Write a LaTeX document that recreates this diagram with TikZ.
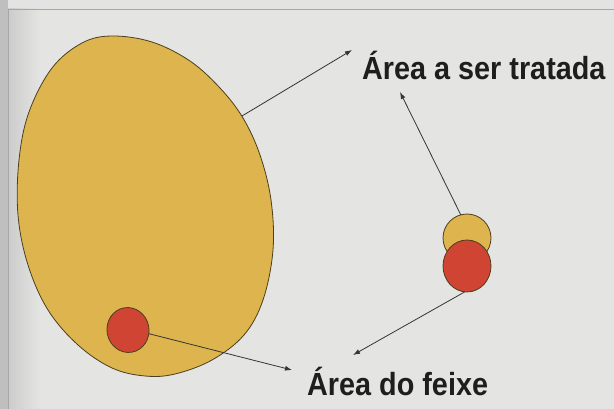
\documentclass[tikz,border=0pt]{standalone}
\usepackage{fontspec}
\newfontfamily\lblfont[FakeStretch=0.9]{Liberation Sans}
\usetikzlibrary{arrows.meta}
\definecolor{bg}{HTML}{E4E4E2}
\definecolor{mustard}{HTML}{DDB44E}
\definecolor{edgebrown}{HTML}{4A3F1E}
\definecolor{beamred}{HTML}{CF4433}
\definecolor{inkdark}{HTML}{1E1E1E}
\tikzset{
  blob/.style={draw=edgebrown, line width=0.8pt},
  disc/.style={blob, inner sep=0pt, outer sep=0pt, ellipse},
  pointer/.style={draw=inkdark!90, line width=0.8pt, -{Latex[length=7pt,width=5pt]}},
  lbl/.style={font=\lblfont\bfseries\fontsize{32}{36}\selectfont, text=inkdark, inner sep=0pt, anchor=base west}
}
\usetikzlibrary{shapes.geometric}
\begin{document}
\begin{tikzpicture}[x=1pt,y=-1pt]
\useasboundingbox (0,0) rectangle (614,409);
% background
\fill[bg] (0,0) rectangle (614,409);
\fill[gray!22] (0,0) rectangle (614,9);
\shade[left color=gray!40, right color=bg] (8,9) rectangle (40,409);
\fill[gray!50] (0,0) rectangle (8,409);
\draw[gray!70, line width=0.8pt] (8,409) -- (8,9) -- (614,9);
% big egg (area to be treated)
\draw[blob, fill=mustard] plot[smooth cycle, tension=0.6] coordinates {
  (112,36) (152,42) (190,61) (220,88) (243,118) (260,155) (271,200)
  (273,250) (263,300) (244,335) (212,360) (175,374) (145,376) (112,368)
  (78,345) (48,310) (28,265) (18,215) (19,160) (29,112) (52,68) (82,43)};
\coordinate (eggedge) at (242,116);
% beam spot inside
\node[disc, fill=beamred, minimum width=42pt, minimum height=45pt, rotate=10] (spot) at (128,330) {};
% small pair
\node[disc, fill=mustard, minimum width=48pt, minimum height=48pt] (ys) at (467,238) {};
\node[disc, fill=beamred, minimum width=48pt, minimum height=52pt] (rs) at (467,266) {};
% labels
\node[lbl] (tlab) at (362,80) {Área a ser tratada};
\node[lbl] (blab) at (307,395) {Área do feixe};
\coordinate (t1) at (352,50);
\coordinate (t2) at (400,92);
\coordinate (b1) at (292,370);
\coordinate (b2) at (353,355);
% connectors
\draw[pointer] (eggedge) -- (t1);
\draw[pointer] (ys.105) -- (t2);
\draw[pointer] (spot.-20) -- (b1);
\draw[pointer] (rs.-95) -- (b2);
\end{tikzpicture}
\end{document}
